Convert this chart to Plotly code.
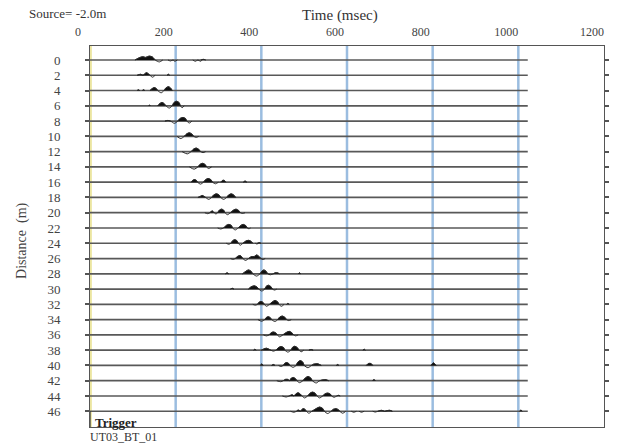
import plotly.graph_objects as go

# ---------------- data ----------------
DISTANCES = list(range(0, 48, 2))            # receiver distance (m)
X_TICKS = [0, 200, 400, 600, 800, 1000, 1200]  # time (msec)
GRID_TIMES = [200, 400, 600, 800, 1000]
TRIGGER_TIME = 0
TRACE_START = -9
TRACE_END = 1022

# wiggle samples per trace: (time msec, amplitude in metres of trace offset, +up)
w00 = [(105, 0), (115, 0.35), (123, 0.5), (130, 0.4), (138, 0.6), (146, 0.45), (152, 0), (162, -0.3), (170, 0),
       (182, 0), (188, -0.15), (194, 0), (198, -0.2), (204, 0), (240, 0), (246, -0.2), (252, 0), (258, -0.2), (264, 0.1), (270, 0)]
w02 = [(110, 0), (118, 0.15), (124, 0), (128, 0.25), (132, 0.4), (137, 0.2), (140, 0), (146, -0.3), (152, 0),
       (180, 0), (183, 0.15), (186, 0)]
w04 = [(110, 0), (113, 0.12), (116, 0), (122, 0), (125, 0.12), (128, 0), (140, 0), (145, 0.3), (150, 0.45), (155, 0.3),
       (158, 0), (166, -0.35), (173, 0), (177, 0.4), (183, 0.6), (188, 0.4), (192, 0)]
w06 = [(137, 0), (139, 0.12), (141, 0), (158, 0), (163, 0.35), (168, 0.5), (173, 0.35), (177, 0), (185, -0.35), (192, 0),
       (196, 0.5), (202, 0.7), (208, 0.5), (211, 0), (215, -0.3), (220, 0)]
w08 = [(175, 0), (182, 0.1), (188, 0), (197, -0.35), (205, 0), (210, 0.4), (217, 0.55), (223, 0.4), (226, 0), (232, -0.3), (238, 0)]
w10 = [(203, 0), (212, -0.35), (220, 0), (226, 0.4), (232, 0.55), (238, 0.35), (242, 0), (248, -0.15), (254, 0)]
w12 = [(215, 0), (227, -0.35), (236, 0), (242, 0.4), (248, 0.55), (254, 0.35), (258, 0), (264, -0.15), (270, 0)]
w14 = [(232, 0), (243, -0.35), (252, 0), (257, 0.4), (263, 0.55), (269, 0.35), (272, 0), (277, -0.25), (284, 0)]
w16 = [(236, 0), (240, 0.3), (244, 0.4), (248, 0.3), (251, 0), (258, -0.3), (265, 0), (270, 0.4), (276, 0.55), (282, 0.4),
       (286, 0), (293, -0.25), (300, 0), (305, 0), (309, 0.25), (313, 0.3), (317, 0), (358, 0), (362, 0.18), (366, 0)]
w18 = [(252, 0), (257, 0.15), (262, 0.3), (267, 0.15), (270, 0), (277, -0.3), (284, 0), (289, 0.4), (295, 0.55), (301, 0.4),
       (305, 0), (312, -0.3), (319, 0), (324, 0.4), (330, 0.55), (336, 0.35), (340, 0)]
w20 = [(268, 0), (275, -0.15), (280, 0), (285, 0.3), (290, 0), (294, -0.2), (298, 0), (302, 0.4), (307, 0.55), (312, 0.4),
       (315, 0), (321, -0.3), (328, 0), (335, 0.4), (341, 0.55), (347, 0.35), (351, 0), (356, -0.12), (362, 0)]
w22 = [(298, 0), (305, -0.15), (312, 0), (318, 0.4), (324, 0.55), (330, 0.4), (333, 0), (339, -0.3), (346, 0), (352, 0.4),
       (358, 0.55), (364, 0.35), (367, 0), (371, -0.12), (375, 0)]
w24 = [(306, 0), (318, 0), (324, -0.15), (329, 0), (333, 0.4), (338, 0.55), (343, 0.4), (346, 0), (351, -0.3), (357, 0),
       (364, 0.35), (370, 0.45), (376, 0.3), (380, 0), (386, 0), (390, -0.12), (395, 0.1), (399, 0)]
w26 = [(328, 0), (334, -0.12), (339, 0), (345, 0.35), (351, 0.45), (357, 0), (363, -0.3), (370, 0), (377, 0.3), (383, 0.3),
       (389, 0.55), (395, 0.3), (399, 0), (404, -0.15), (409, 0)]
w28 = [(316, 0), (320, 0.15), (324, 0), (356, 0), (364, 0.4), (370, 0.6), (376, 0.4), (380, 0), (389, -0.35), (397, 0),
       (401, 0.4), (406, 0.6), (411, 0.4), (415, 0), (421, -0.15), (428, 0), (432, 0.15), (438, 0.15), (442, 0),
       (486, 0), (489, 0.15), (492, 0)]
w30 = [(328, 0), (332, 0.12), (336, 0), (370, 0), (376, 0.35), (384, 0.5), (390, 0.3), (394, 0), (401, -0.3), (408, 0),
       (411, 0.4), (416, 0.6), (422, 0.4), (426, 0), (431, -0.15), (436, 0)]
w32 = [(380, 0), (386, -0.12), (391, 0), (395, 0.35), (399, 0.45), (404, 0.3), (407, 0), (412, -0.3), (419, 0), (426, 0.4),
       (432, 0.6), (438, 0.4), (441, 0), (447, -0.3), (453, 0), (459, 0), (462, 0.15), (465, 0)]
w34 = [(383, 0), (392, 0), (401, -0.25), (408, 0), (412, 0.35), (416, 0.45), (421, 0.3), (424, 0), (432, -0.3), (438, 0),
       (443, 0.4), (449, 0.55), (455, 0.35), (459, 0), (464, -0.15), (470, 0)]
w36 = [(405, 0), (412, -0.15), (418, 0), (423, 0.35), (428, 0.45), (434, 0.3), (437, 0), (443, -0.3), (450, 0), (459, 0.4),
       (465, 0.55), (471, 0.35), (475, 0), (480, -0.15), (486, 0)]
w38 = [(382, 0), (385, 0.15), (388, 0), (400, 0), (406, 0.2), (412, 0.3), (418, 0.15), (422, 0), (428, -0.15), (434, 0),
       (440, 0.4), (446, 0.55), (452, 0.4), (455, 0), (462, -0.3), (469, 0), (473, 0.45), (478, 0.6), (484, 0.4), (488, 0),
       (493, -0.25), (499, 0), (511, 0), (516, 0.12), (521, 0), (637, 0), (640, 0.15), (643, 0)]
w40 = [(398, 0), (401, 0.25), (404, 0), (424, 0), (428, 0.15), (432, 0), (440, 0), (446, -0.15), (451, 0), (455, 0.35),
       (459, 0.45), (464, 0.3), (467, 0), (474, -0.3), (481, 0), (485, 0.5), (491, 0.75), (497, 0.5), (500, 0), (509, -0.35),
       (517, 0), (522, 0.2), (532, 0.25), (540, 0), (575, 0), (578, 0.15), (581, 0), (645, 0), (650, 0.3), (656, 0.3),
       (660, 0), (796, 0), (802, 0.4), (808, 0)]
w42 = [(436, 0), (445, -0.15), (451, 0), (456, 0.2), (462, 0.2), (466, 0), (470, 0.4), (475, 0.5), (480, 0.3), (483, 0),
       (489, -0.3), (497, 0), (503, 0.45), (509, 0.65), (515, 0.45), (519, 0), (528, -0.35), (536, 0), (545, 0.15),
       (551, 0.15), (557, 0), (660, 0), (663, 0.2), (666, 0)]
w44 = [(449, 0), (458, -0.15), (465, 0), (472, 0.2), (476, 0), (481, 0.35), (486, 0.5), (491, 0.3), (495, 0), (501, -0.3),
       (508, 0), (514, 0.45), (520, 0.6), (526, 0.4), (530, 0), (536, -0.3), (543, 0), (549, 0.35), (555, 0.45), (561, 0.3),
       (564, 0), (570, -0.2), (576, 0), (580, 0.1), (584, 0)]
w46 = [(468, 0), (476, -0.15), (482, 0), (486, 0.2), (491, 0), (497, 0.4), (502, 0.3), (505, 0), (511, -0.3), (518, 0),
       (529, 0.45), (536, 0.65), (543, 0.45), (547, 0), (555, -0.35), (563, 0), (568, 0.3), (574, 0.4), (580, 0.25), (583, 0),
       (590, -0.3), (597, 0), (610, 0), (616, -0.15), (622, 0), (628, 0), (634, -0.15), (640, 0), (660, 0), (666, -0.12),
       (672, 0), (680, 0.15), (688, 0), (694, 0.1), (700, 0.15), (706, 0), (1003, 0), (1006, 0.2), (1009, 0)]

WAVES = [w00, w02, w04, w06, w08, w10, w12, w14, w16, w18, w20, w22,
         w24, w26, w28, w30, w32, w34, w36, w38, w40, w42, w44, w46]

SERIF = "Liberation Serif"
GAIN = 0.85   # display gain for the wiggles

# ---------------- build figure ----------------
fig = go.Figure()

# vertical time grid (blue) and trigger line (yellow)
for g in GRID_TIMES:
    fig.add_shape(type="line", xref="x", yref="paper", x0=g, x1=g, y0=0, y1=1,
                  line=dict(color="#9bbde0", width=2.5), layer="below")
fig.add_shape(type="line", xref="x", yref="paper", x0=TRIGGER_TIME + 2, x1=TRIGGER_TIME + 2, y0=0, y1=1,
              line=dict(color="#ece6a0", width=2), layer="below")

# trace baselines
bx, by = [], []
for d in DISTANCES:
    bx += [TRACE_START, TRACE_END, None]
    by += [d, d, None]
fig.add_trace(go.Scatter(x=bx, y=by, mode="lines", line=dict(color="#585858", width=1.7),
                         hoverinfo="skip", cliponaxis=False))

# positive-lobe fills and wiggle lines (line broken where the trace stays on its baseline)
fx, fy, lx, ly = [], [], [], []
for d, w in zip(DISTANCES, WAVES):
    prev = None
    for t, a in w:
        if prev is not None and prev[1] == 0 and a == 0:
            lx.append(None)
            ly.append(None)
        lx.append(t)
        ly.append(d - GAIN * a)
        prev = (t, a)
    lx.append(None)
    ly.append(None)

    lobe = []
    base = None
    for t, a in w:
        if a > 0:
            lobe.append((t, a))
        else:
            if lobe:
                pts = [base] + lobe + [(t, 0)]
                fx += [p[0] for p in pts] + [None]
                fy += [d - GAIN * p[1] for p in pts] + [None]
                lobe = []
            base = (t, 0)

fig.add_trace(go.Scatter(x=fx, y=fy, mode="lines", fill="toself", fillcolor="#111111",
                         line=dict(color="#111111", width=0.6, shape="spline", smoothing=0.7), hoverinfo="skip"))
fig.add_trace(go.Scatter(x=lx, y=ly, mode="lines",
                         line=dict(color="#2a2a2a", width=1, shape="spline", smoothing=0.7), hoverinfo="skip"))

# trigger marker at bottom-left
fig.add_trace(go.Scatter(x=[TRIGGER_TIME, TRIGGER_TIME], y=[DISTANCES[-1], 48.06], mode="lines",
                         line=dict(color="#333333", width=1.2), hoverinfo="skip", cliponaxis=False))

fig.update_layout(
    width=621, height=446,
    margin=dict(l=90, r=12, t=46, b=19),
    paper_bgcolor="white", plot_bgcolor="white",
    showlegend=False,
    font=dict(family=SERIF, color="#333333"),
)
fig.update_xaxes(range=[0, 1200], side="top", tickvals=X_TICKS, ticks="",
                 showgrid=False, zeroline=False, showline=True, mirror=True,
                 linecolor="#555555", linewidth=1,
                 tickfont=dict(family=SERIF, size=12, color="#444444"),
                 ticklabelshift=-12, ticklabelstandoff=4)
fig.update_yaxes(range=[48.06, -1.83], tickvals=DISTANCES, ticks="outside", ticklen=4,
                 tickcolor="#555555", tickwidth=1.5,
                 showgrid=False, zeroline=False, showline=True, mirror="ticks",
                 linecolor="#555555", linewidth=1,
                 tickfont=dict(family=SERIF, size=13, color="#444444"),
                 ticklabelstandoff=22)

ann = [
    dict(text="Time (msec)", x=0.487, y=1.081, xref="paper", yref="paper", xanchor="center", yanchor="middle",
         showarrow=False, font=dict(family=SERIF, size=15, color="#333333")),
    dict(text="Source= -2.0m", x=-0.123, y=1.084, xref="paper", yref="paper", xanchor="left", yanchor="middle",
         showarrow=False, font=dict(family=SERIF, size=13, color="#333333")),
    dict(text="Distance  (m)", x=-0.131, y=0.49, xref="paper", yref="paper", xanchor="center", yanchor="middle",
         textangle=-90, showarrow=False, font=dict(family=SERIF, size=14, color="#444444")),
    dict(text="<b>Trigger</b>", x=0.006, y=0.013, xref="paper", yref="paper", xanchor="left", yanchor="middle",
         showarrow=False, font=dict(family=SERIF, size=13, color="#222222")),
    dict(text="UT03_BT_01", x=-0.004, y=-0.026, xref="paper", yref="paper", xanchor="left", yanchor="middle",
         showarrow=False, font=dict(family=SERIF, size=12, color="#333333")),
]
fig.update_layout(annotations=ann)

fig.write_html("out.html")
